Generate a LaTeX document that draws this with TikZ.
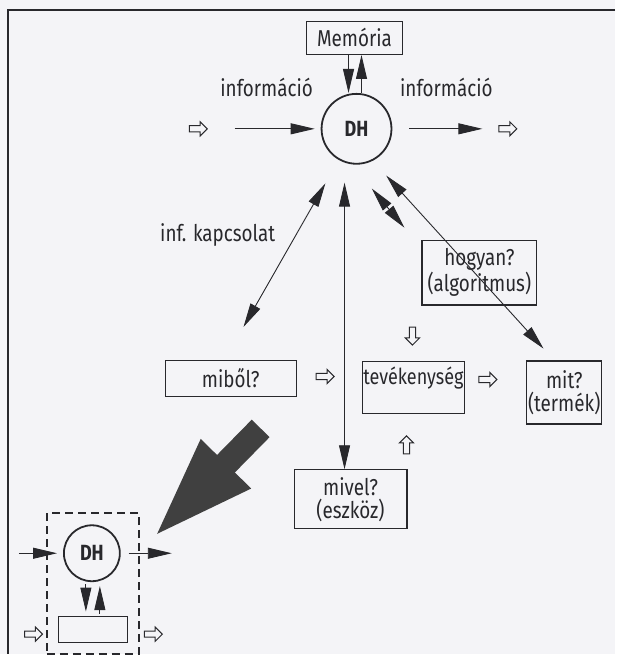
\documentclass[tikz,border=0pt]{standalone}
\usepackage{fontspec}
\setmainfont{Fira Sans}[FakeStretch=0.82]
\usetikzlibrary{arrows.meta, shapes.arrows, positioning, fit}
\definecolor{paper}{RGB}{244,244,247}
\definecolor{ink}{RGB}{40,40,44}

\begin{document}
\begin{tikzpicture}[
    x=0.5pt, y=-0.5pt,
    font=\fontsize{11.5}{11.5}\selectfont,
    box/.style={draw=ink, line width=0.6pt, align=center, inner sep=0.5pt, text=ink},
    proc/.style={circle, draw=ink, line width=0.9pt, minimum size=35pt, inner sep=0pt,
                 text=ink, font=\fontsize{11}{11.5}\selectfont\bfseries},
    note/.style={text=ink, inner sep=1pt},
    arrow/.style={-{Triangle[length=12pt, width=5.5pt]}, draw=ink, line width=0.45pt},
    darrow/.style={{Triangle[length=12pt, width=5.5pt]}-{Triangle[length=12pt, width=5.5pt]},
                   draw=ink, line width=0.45pt},
    hollow/.style={single arrow, draw=ink, line width=0.5pt, minimum height=9pt, inner sep=1.3pt,
                   single arrow head extend=2pt, single arrow head indent=0pt},
    bigarrow/.style={-{Triangle[length=53pt, width=31pt]}, draw=black!75, line width=12.5pt},
]
\fill[paper] (0,0) rectangle (616,655);
\draw[ink, line width=0.9pt] (616,10) -- (8,10) -- (8,655);

% main picture
\node[box, minimum width=48pt, minimum height=16.5pt] (mem) at (355,38) {Memória};
\node[proc] (dh) at (357,129) {DH};
\node[note] (infin)  at (267,88) {információ};
\node[note] (infout) at (447,88) {információ};
\node[hollow] (hin)  at (197,129) {};
\node[hollow] (hout) at (507,129) {};
\coordinate (inA)  at (235,129);
\coordinate (outB) at (483,129);
\node[note] (kapcs) at (218,235) {inf. kapcsolat};

\node[box, minimum width=57.5pt, minimum height=32.5pt] (hogyan) at (480,273) {hogyan?\\(algoritmus)};
\node[box, minimum width=65.5pt, minimum height=18pt]   (mibol)  at (231,379) {miből?};
\node[box, minimum width=48.5pt, minimum height=26pt,
      font=\fontsize{11}{12}\selectfont]               (tev)    at (414,388) {tevékenység\\\phantom{x}};
\node[box, minimum width=37.5pt, minimum height=31.5pt] (mit)    at (565,393) {mit?\\(termék)};
\node[box, minimum width=56.5pt, minimum height=29.5pt] (mivel)  at (351,500) {mivel?\\(eszköz)};

\node[hollow, shape border rotate=270] (hdown) at (413,335) {};
\node[hollow] (hmt) at (324,377) {};
\node[hollow] (htm) at (487,380) {};
\node[hollow, shape border rotate=90] (hup) at (407,447) {};
\coordinate (hlink) at (405,228);

\draw[arrow, shorten >=3pt] (inA) -- (dh);
\draw[arrow, shorten <=8.5pt] (dh) -- (outB);
\draw[arrow] ([xshift=-3pt]mem.south) -- ([xshift=-3pt]mem.south |- dh.north);
\draw[arrow] ([xshift=3.5pt]mem.south |- dh.north) -- ([xshift=3.5pt]mem.south);
\draw[darrow, shorten <=13.5pt, shorten >=19pt] (dh) -- ([xshift=-3pt]mibol.north);
\draw[darrow, shorten >=9pt] ([xshift=-3pt]mivel.north) -- ([xshift=-3pt]mivel.north |- dh.south);
\draw[darrow, shorten <=15.8pt] (dh.-98) -- (hlink);
\draw[darrow, shorten <=10pt, shorten >=8pt] (dh.-63) -- ([xshift=-5pt]mit.north);

% zoom arrow
\coordinate (zfrom) at (261,429);
\coordinate (zto)   at (152,540);
\draw[bigarrow] (zfrom) -- (zto);

% small picture
\node[proc, minimum size=28pt] (sdh) at (92,554) {DH};
\node[box, minimum width=34.5pt, minimum height=13pt] (sbox) at (93,630) {};
\coordinate (sin)  at (19,554);
\coordinate (sout) at (172,554);
\node[hollow] (sleft)  at (32,635) {};
\node[hollow] (sright) at (152,635) {};
\node[draw=ink, line width=0.9pt, dash pattern=on 4pt off 2.5pt,
      fit=(sdh)(sbox), inner sep=5.5pt] (zoombox) {};

\draw[arrow, shorten >=3pt] (sin) -- (sdh);
\draw[arrow, shorten <=4pt] (sdh) -- (sout);
\draw[arrow, shorten <=1pt, shorten >=2pt] ([xshift=-3pt]sdh.south) -- ([xshift=-3pt]sdh.south |- sbox.north);
\draw[arrow, shorten <=1pt, shorten >=2pt] ([xshift=4pt]sdh.south |- sbox.north) -- ([xshift=4pt]sdh.south);
\end{tikzpicture}
\end{document}
